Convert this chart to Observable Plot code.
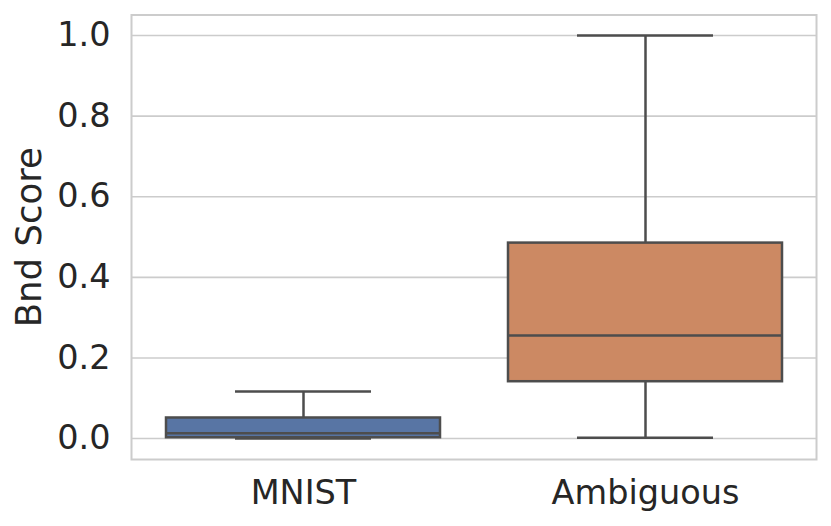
<!DOCTYPE html>
<html>
<head>
<meta charset="utf-8">
<script src="https://cdn.jsdelivr.net/npm/d3@7"></script>
<script src="https://cdn.jsdelivr.net/npm/@observablehq/plot@0.6"></script>
<style>
  html, body { margin: 0; padding: 0; background: #fff; }
</style>
</head>
<body>
<div id="chart"></div>
<script>
const categories = ["MNIST", "Ambiguous"];
const colors = ["#5875a4", "#cc8963"];
const whiskerLow = [0.0, 0.002];
const q1 = [0.002, 0.141];
const median = [0.013, 0.256];
const q3 = [0.051, 0.485];
const whiskerHigh = [0.117, 1.0];
const yTicks = [0, 0.2, 0.4, 0.6, 0.8, 1.0];
const yLabel = "Bnd Score";

const stats = categories.map((c, i) => ({
  cat: c, color: colors[i], lo: whiskerLow[i], q1: q1[i], med: median[i], q3: q3[i], hi: whiskerHigh[i]
}));

const edge = "#4d4d4d";
const chart = Plot.plot({
  width: 831,
  height: 526,
  marginLeft: 131,
  marginRight: 15,
  marginTop: 14.5,
  marginBottom: 67,
  style: { fontFamily: "DejaVu Sans", fontSize: "33px", color: "#262626", background: "#fff" },
  x: { domain: categories, paddingInner: 0.2, paddingOuter: 0.1, label: null },
  y: { domain: [-0.052, 1.051], label: null },
  marks: [
    Plot.gridY(yTicks, { stroke: "#cccccc", strokeOpacity: 1, strokeWidth: 1.6 }),
    Plot.frame({ stroke: "#cccccc", strokeWidth: 2 }),
    Plot.axisY(yTicks, { tickSize: 0, tickPadding: 21, tickFormat: d3.format(".1f"), label: null, fontSize: 33.5 }),
    Plot.axisX({ tickSize: 0, tickPadding: 21, label: null, fontSize: 33.5 }),
    Plot.text([yLabel], { text: d => d, frameAnchor: "left", textAnchor: "middle", lineAnchor: "middle", rotate: -90, dx: -102, fontSize: 35.5, fill: "#262626" }),
    Plot.ruleX(stats, { x: "cat", y1: "q3", y2: "hi", stroke: edge, strokeWidth: 2.5 }),
    Plot.ruleX(stats, { x: "cat", y1: "lo", y2: "q1", stroke: edge, strokeWidth: 2.5 }),
    Plot.tickY(stats, { x: "cat", y: "hi", stroke: edge, strokeWidth: 2.5, insetLeft: 69, insetRight: 69 }),
    Plot.tickY(stats, { x: "cat", y: "lo", stroke: edge, strokeWidth: 2.5, insetLeft: 69, insetRight: 69 }),
    Plot.barY(stats, { x: "cat", y1: "q1", y2: "q3", fill: "color", stroke: edge, strokeWidth: 2.5 }),
    Plot.tickY(stats, { x: "cat", y: "med", stroke: edge, strokeWidth: 2.5 })
  ]
});
document.getElementById("chart").appendChild(chart);
</script>
</body>
</html>
